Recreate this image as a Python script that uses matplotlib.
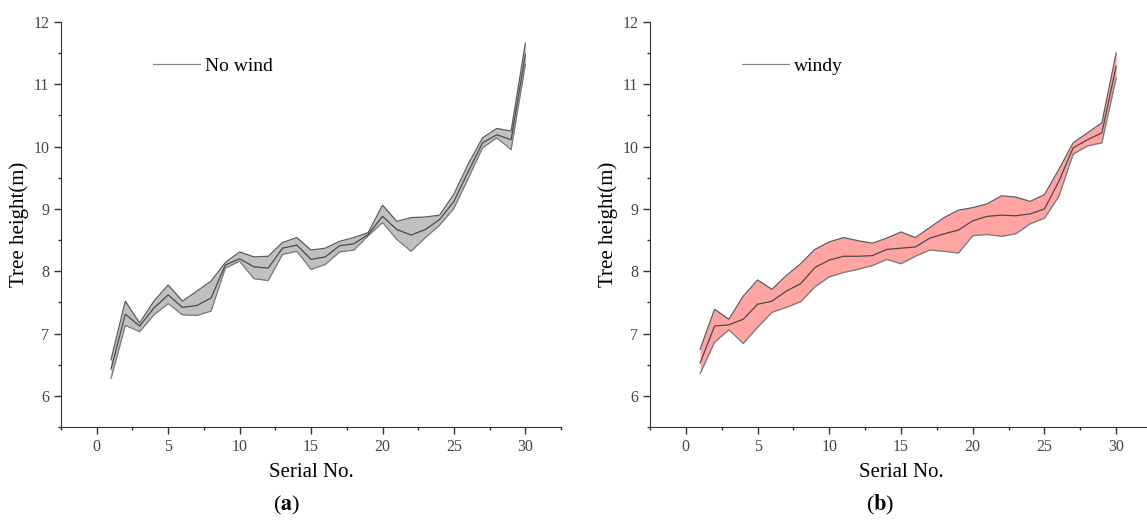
import numpy as np
import matplotlib
matplotlib.use("Agg")
import matplotlib.pyplot as plt
from matplotlib.ticker import MultipleLocator

plt.rcParams['font.family'] = ['Liberation Serif', 'DejaVu Serif']
plt.rcParams['mathtext.fontset'] = 'stix'

serial = list(range(1, 31))

# panel (a): no wind
nowind_upper = [6.58, 7.52, 7.17, 7.52, 7.78, 7.52, 7.68, 7.84, 8.14, 8.31,
                8.23, 8.24, 8.46, 8.54, 8.34, 8.37, 8.48, 8.54, 8.62, 9.06,
                8.80, 8.86, 8.87, 8.90, 9.24, 9.72, 10.14, 10.29, 10.25, 11.66]
nowind_mid = [6.43, 7.31, 7.12, 7.41, 7.62, 7.42, 7.45, 7.57, 8.10, 8.20,
              8.07, 8.05, 8.37, 8.42, 8.19, 8.23, 8.41, 8.44, 8.59, 8.88,
              8.67, 8.58, 8.67, 8.83, 9.12, 9.60, 10.06, 10.19, 10.11, 11.48]
nowind_lower = [6.28, 7.13, 7.03, 7.30, 7.48, 7.30, 7.29, 7.36, 8.05, 8.16,
                7.88, 7.85, 8.27, 8.32, 8.03, 8.11, 8.31, 8.34, 8.57, 8.78,
                8.51, 8.32, 8.54, 8.74, 9.01, 9.49, 9.98, 10.14, 9.95, 11.32]

# panel (b): windy
windy_upper = [6.75, 7.39, 7.23, 7.60, 7.86, 7.71, 7.93, 8.12, 8.35, 8.47,
               8.54, 8.49, 8.45, 8.53, 8.63, 8.54, 8.70, 8.86, 8.98, 9.02,
               9.08, 9.21, 9.19, 9.12, 9.23, 9.63, 10.06, 10.22, 10.38, 11.50]
windy_mid = [6.53, 7.12, 7.14, 7.23, 7.47, 7.52, 7.68, 7.80, 8.06, 8.18,
             8.24, 8.24, 8.25, 8.35, 8.37, 8.39, 8.53, 8.60, 8.66, 8.81,
             8.88, 8.90, 8.89, 8.92, 9.00, 9.44, 9.98, 10.11, 10.22, 11.29]
windy_lower = [6.36, 6.86, 7.06, 6.84, 7.10, 7.34, 7.42, 7.51, 7.75, 7.91,
               7.98, 8.03, 8.09, 8.19, 8.12, 8.24, 8.34, 8.32, 8.29, 8.57,
               8.59, 8.56, 8.60, 8.76, 8.85, 9.20, 9.88, 10.01, 10.06, 11.10]


def draw_panel(ax, upper, mid, lower, fill_color, label):
    x = np.array(serial)
    ax.fill_between(x, upper, lower, color=fill_color, linewidth=0)
    ax.plot(x, upper, color='#5a5a5a', lw=0.9)
    ax.plot(x, lower, color='#7a7a7a', lw=0.9)
    ax.plot(x, mid, color='#4a4a4a', lw=0.9, label=label)

    ax.set_xlim(-2.5, 32.5)
    ax.set_ylim(5.5, 12)
    ax.set_xticks([0, 5, 10, 15, 20, 25, 30])
    ax.set_yticks([6, 7, 8, 9, 10, 11, 12])
    ax.xaxis.set_minor_locator(MultipleLocator(2.5))
    ax.yaxis.set_minor_locator(MultipleLocator(0.5))
    ax.spines['top'].set_visible(False)
    ax.spines['right'].set_visible(False)
    ax.spines['left'].set_color('#333333')
    ax.spines['bottom'].set_color('#333333')
    ax.tick_params(which='major', direction='out', length=5, width=1,
                   color='#333333', labelsize=11.5, labelcolor='#444444')
    ax.tick_params(which='minor', direction='out', length=2.5, width=1,
                   color='#333333')
    ax.set_xlabel('Serial No.', fontsize=15, labelpad=6)
    ax.set_ylabel('Tree height(m)', fontsize=15, labelpad=3)

    leg = ax.legend(loc='center left', bbox_to_anchor=(0.184, 0.891),
                    frameon=False, fontsize=14, handlelength=2.4,
                    handletextpad=0.25, borderpad=0, borderaxespad=0)
    leg.get_lines()[0].set_color('#888888')


fig = plt.figure(figsize=(11.47, 5.2), dpi=100)
ax_a = fig.add_axes([0.0532, 0.1788, 0.436, 0.779])
ax_b = fig.add_axes([0.5667, 0.1788, 0.4377, 0.779])

draw_panel(ax_a, nowind_upper, nowind_mid, nowind_lower, '#c0c0c0', 'No wind')
draw_panel(ax_b, windy_upper, windy_mid, windy_lower, '#ffa3a3', 'windy')

fig.text(0.250, 0.028, r'($\mathbf{a}$)', ha='center', va='center', fontsize=16)
fig.text(0.767, 0.028, r'($\mathbf{b}$)', ha='center', va='center', fontsize=16)

fig.savefig('out.png', dpi=100)
